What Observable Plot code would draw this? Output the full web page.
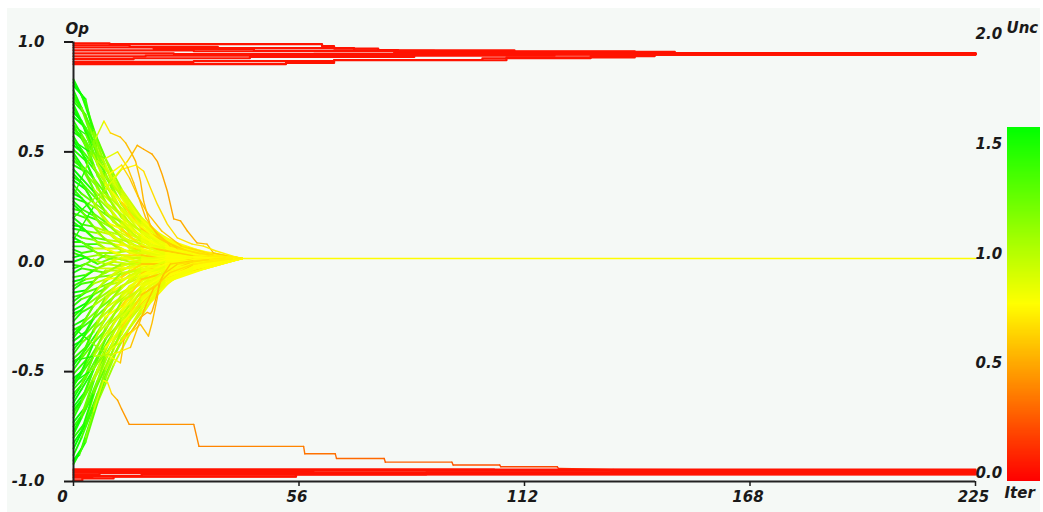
<!DOCTYPE html>
<html><head><meta charset="utf-8">
<script src="https://cdn.jsdelivr.net/npm/d3@7"></script>
<script src="https://cdn.jsdelivr.net/npm/@observablehq/plot@0.6"></script>
<style>
html,body{margin:0;padding:0;background:#fff;}
#chart{position:absolute;left:7px;top:8px;}
#chart svg{display:block;}
</style></head><body><div id="chart"></div>
<script>
// ---- axis ticks ----
const xTicks = [0, 56.25, 112.5, 168.75, 225];
const xTickLabels = ["0", "56", "112", "168", "225"];
const yTicks = [-1, -0.5, 0, 0.5, 1];
const uncTicks = [0, 0.5, 1, 1.5, 2];
const barTop = 1.61;

// ---- central cloud, set 1: opinion at shared iterations ----
const bulkX = [0, 3, 6, 10, 14, 19, 25, 33, 42];
const bulkY = [
  [0.83, 0.72, 0.55, 0.38, 0.26, 0.15, 0.08, 0.045, 0.015],
  [0.80, 0.74, 0.50, 0.36, 0.24, 0.14, 0.09, 0.04, 0.015],
  [0.76, 0.66, 0.53, 0.34, 0.27, 0.13, 0.07, 0.035, 0.015],
  [0.73, 0.67, 0.47, 0.37, 0.22, 0.15, 0.08, 0.04, 0.015],
  [0.70, 0.60, 0.49, 0.31, 0.23, 0.12, 0.06, 0.03, 0.015],
  [0.66, 0.61, 0.44, 0.33, 0.20, 0.13, 0.07, 0.035, 0.015],
  [0.62, 0.53, 0.45, 0.28, 0.21, 0.11, 0.05, 0.03, 0.015],
  [0.59, 0.55, 0.39, 0.30, 0.17, 0.12, 0.06, 0.025, 0.015],
  [0.55, 0.47, 0.40, 0.25, 0.18, 0.10, 0.05, 0.03, 0.015],
  [0.51, 0.46, 0.33, 0.26, 0.15, 0.09, 0.06, 0.02, 0.015],
  [0.48, 0.40, 0.34, 0.21, 0.16, 0.08, 0.04, 0.025, 0.015],
  [0.44, 0.41, 0.29, 0.22, 0.13, 0.09, 0.05, 0.02, 0.015],
  [0.40, 0.34, 0.28, 0.18, 0.14, 0.07, 0.04, 0.02, 0.015],
  [0.37, 0.33, 0.24, 0.19, 0.11, 0.08, 0.03, 0.025, 0.015],
  [0.33, 0.27, 0.24, 0.15, 0.11, 0.06, 0.04, 0.02, 0.015],
  [0.29, 0.27, 0.19, 0.15, 0.08, 0.06, 0.03, 0.02, 0.015],
  [0.26, 0.21, 0.19, 0.11, 0.09, 0.04, 0.03, 0.015, 0.015],
  [0.22, 0.20, 0.14, 0.12, 0.06, 0.05, 0.02, 0.02, 0.015],
  [0.18, 0.14, 0.13, 0.08, 0.07, 0.03, 0.025, 0.015, 0.015],
  [0.15, 0.14, 0.09, 0.08, 0.04, 0.04, 0.02, 0.015, 0.015],
  [0.11, 0.08, 0.08, 0.04, 0.05, 0.02, 0.02, 0.015, 0.015],
  [0.07, 0.07, 0.04, 0.04, 0.02, 0.025, 0.015, 0.015, 0.015],
  [0.04, 0.02, 0.03, 0.01, 0.02, 0.01, 0.015, 0.015, 0.015],
  [0.00, 0.02, -0.01, 0.02, 0.00, 0.01, 0.01, 0.015, 0.015],
  [-0.03, -0.01, -0.03, 0.00, -0.01, 0.01, 0.005, 0.015, 0.015],
  [-0.07, -0.06, -0.03, -0.03, -0.01, 0.00, 0.01, 0.01, 0.015],
  [-0.11, -0.08, -0.07, -0.03, -0.03, -0.01, 0.00, 0.01, 0.015],
  [-0.14, -0.13, -0.07, -0.06, -0.02, -0.02, 0.00, 0.01, 0.015],
  [-0.18, -0.14, -0.12, -0.06, -0.05, -0.01, -0.01, 0.005, 0.015],
  [-0.22, -0.19, -0.12, -0.09, -0.04, -0.03, 0.00, 0.01, 0.015],
  [-0.25, -0.20, -0.16, -0.09, -0.07, -0.02, -0.01, 0.005, 0.015],
  [-0.29, -0.26, -0.17, -0.12, -0.06, -0.04, 0.00, 0.01, 0.015],
  [-0.33, -0.27, -0.22, -0.13, -0.09, -0.03, -0.02, 0.00, 0.015],
  [-0.36, -0.32, -0.22, -0.16, -0.08, -0.05, -0.01, 0.005, 0.015],
  [-0.40, -0.33, -0.27, -0.16, -0.12, -0.04, -0.02, 0.00, 0.015],
  [-0.44, -0.39, -0.27, -0.20, -0.11, -0.06, -0.02, 0.005, 0.015],
  [-0.47, -0.40, -0.32, -0.20, -0.14, -0.05, -0.03, -0.005, 0.015],
  [-0.51, -0.45, -0.33, -0.24, -0.13, -0.08, -0.02, 0.00, 0.015],
  [-0.55, -0.47, -0.38, -0.24, -0.17, -0.07, -0.04, -0.01, 0.015],
  [-0.58, -0.52, -0.38, -0.28, -0.16, -0.09, -0.03, 0.00, 0.015],
  [-0.62, -0.53, -0.43, -0.28, -0.20, -0.08, -0.05, -0.01, 0.015],
  [-0.66, -0.59, -0.44, -0.32, -0.19, -0.11, -0.04, -0.02, 0.015],
  [-0.69, -0.60, -0.49, -0.32, -0.23, -0.10, -0.06, -0.015, 0.015],
  [-0.73, -0.66, -0.49, -0.36, -0.22, -0.13, -0.05, -0.02, 0.015],
  [-0.77, -0.67, -0.54, -0.36, -0.26, -0.12, -0.07, -0.025, 0.015],
  [-0.80, -0.73, -0.55, -0.40, -0.25, -0.15, -0.06, -0.03, 0.015],
  [-0.85, -0.74, -0.60, -0.43, -0.30, -0.16, -0.08, -0.03, 0.015],
  [-0.92, -0.82, -0.64, -0.47, -0.33, -0.19, -0.07, -0.03, 0.015]
];
const uncA = [1.55, 1.32, 1.12, 0.97, 0.89, 0.84, 0.81, 0.80, 0.80];
const uncB = [1.45, 1.18, 1.00, 0.90, 0.84, 0.81, 0.80, 0.80, 0.80];
const uncC = [1.60, 1.45, 1.25, 1.04, 0.93, 0.86, 0.82, 0.80, 0.80];
const uncD = [1.50, 1.20, 0.95, 0.78, 0.68, 0.64, 0.66, 0.72, 0.80];
const bulkProfile = "ACBDACBACDBAACBACBDACABCADBCACBADCABCBADACBCADCA";

// ---- central cloud, set 2 ----
const bulkX2 = [0, 2, 5, 8, 12, 17, 23, 30, 38];
const bulkY2 = [
  [0.815, 0.76, 0.60, 0.47, 0.33, 0.20, 0.10, 0.05, 0.015],
  [0.78, 0.70, 0.59, 0.43, 0.31, 0.18, 0.11, 0.045, 0.015],
  [0.745, 0.70, 0.54, 0.44, 0.29, 0.19, 0.09, 0.05, 0.015],
  [0.715, 0.64, 0.55, 0.39, 0.30, 0.17, 0.10, 0.04, 0.015],
  [0.68, 0.64, 0.49, 0.40, 0.26, 0.18, 0.08, 0.045, 0.015],
  [0.64, 0.58, 0.49, 0.35, 0.27, 0.15, 0.09, 0.035, 0.015],
  [0.605, 0.57, 0.43, 0.36, 0.23, 0.16, 0.07, 0.04, 0.015],
  [0.57, 0.51, 0.44, 0.31, 0.24, 0.13, 0.08, 0.03, 0.015],
  [0.53, 0.50, 0.38, 0.31, 0.20, 0.14, 0.06, 0.035, 0.015],
  [0.495, 0.44, 0.38, 0.27, 0.21, 0.11, 0.07, 0.03, 0.015],
  [0.46, 0.43, 0.33, 0.27, 0.17, 0.12, 0.05, 0.025, 0.015],
  [0.42, 0.38, 0.32, 0.22, 0.18, 0.09, 0.06, 0.03, 0.015],
  [0.385, 0.36, 0.27, 0.23, 0.14, 0.10, 0.04, 0.02, 0.015],
  [0.35, 0.31, 0.27, 0.18, 0.15, 0.07, 0.05, 0.025, 0.015],
  [0.31, 0.29, 0.22, 0.18, 0.11, 0.08, 0.03, 0.02, 0.015],
  [0.275, 0.24, 0.21, 0.14, 0.12, 0.05, 0.04, 0.02, 0.015],
  [0.24, 0.23, 0.16, 0.14, 0.08, 0.06, 0.02, 0.02, 0.015],
  [0.20, 0.17, 0.16, 0.10, 0.09, 0.03, 0.03, 0.015, 0.015],
  [0.165, 0.16, 0.11, 0.10, 0.05, 0.05, 0.02, 0.02, 0.015],
  [0.13, 0.11, 0.10, 0.06, 0.06, 0.02, 0.025, 0.015, 0.015],
  [0.09, 0.09, 0.06, 0.06, 0.03, 0.03, 0.01, 0.015, 0.015],
  [0.055, 0.04, 0.05, 0.02, 0.03, 0.01, 0.02, 0.015, 0.015],
  [0.02, 0.03, 0.00, 0.03, 0.01, 0.02, 0.01, 0.015, 0.015],
  [-0.015, -0.02, 0.01, -0.01, 0.02, 0.00, 0.015, 0.01, 0.015],
  [-0.05, -0.03, -0.04, -0.01, -0.02, 0.01, 0.00, 0.015, 0.015],
  [-0.09, -0.08, -0.04, -0.05, -0.01, -0.01, 0.01, 0.01, 0.015],
  [-0.125, -0.10, -0.09, -0.04, -0.04, 0.00, 0.00, 0.01, 0.015],
  [-0.16, -0.15, -0.10, -0.08, -0.03, -0.02, 0.01, 0.005, 0.015],
  [-0.20, -0.17, -0.15, -0.08, -0.07, -0.01, -0.01, 0.01, 0.015],
  [-0.235, -0.22, -0.15, -0.12, -0.05, -0.04, 0.00, 0.005, 0.015],
  [-0.27, -0.23, -0.20, -0.11, -0.09, -0.03, -0.02, 0.01, 0.015],
  [-0.31, -0.29, -0.20, -0.16, -0.08, -0.06, -0.01, 0.005, 0.015],
  [-0.345, -0.30, -0.26, -0.16, -0.12, -0.04, -0.03, 0.00, 0.015],
  [-0.38, -0.36, -0.26, -0.21, -0.11, -0.07, -0.02, 0.005, 0.015],
  [-0.42, -0.37, -0.32, -0.21, -0.16, -0.06, -0.04, 0.00, 0.015],
  [-0.455, -0.43, -0.31, -0.26, -0.15, -0.09, -0.03, -0.005, 0.015],
  [-0.49, -0.44, -0.37, -0.25, -0.20, -0.08, -0.05, 0.00, 0.015],
  [-0.53, -0.50, -0.37, -0.31, -0.18, -0.12, -0.04, -0.01, 0.015],
  [-0.565, -0.51, -0.43, -0.30, -0.23, -0.11, -0.06, -0.005, 0.015],
  [-0.60, -0.56, -0.43, -0.35, -0.22, -0.14, -0.05, -0.015, 0.015],
  [-0.64, -0.58, -0.49, -0.35, -0.27, -0.13, -0.07, -0.01, 0.015],
  [-0.675, -0.63, -0.49, -0.40, -0.25, -0.16, -0.06, -0.02, 0.015],
  [-0.71, -0.64, -0.54, -0.39, -0.30, -0.15, -0.08, -0.015, 0.015],
  [-0.75, -0.70, -0.54, -0.44, -0.28, -0.18, -0.07, -0.025, 0.015],
  [-0.785, -0.71, -0.60, -0.43, -0.33, -0.17, -0.09, -0.02, 0.015],
  [-0.825, -0.77, -0.60, -0.48, -0.31, -0.20, -0.08, -0.03, 0.015],
  [-0.88, -0.80, -0.66, -0.49, -0.36, -0.21, -0.10, -0.03, 0.015],
  [-0.905, -0.85, -0.68, -0.53, -0.35, -0.23, -0.09, -0.035, 0.015]
];
const uncA2 = [1.55, 1.40, 1.18, 1.02, 0.92, 0.86, 0.82, 0.80, 0.80];
const uncB2 = [1.48, 1.28, 1.05, 0.93, 0.86, 0.82, 0.80, 0.80, 0.80];
const uncC2 = [1.60, 1.50, 1.30, 1.12, 0.97, 0.88, 0.83, 0.81, 0.80];
const uncD2 = [1.50, 1.30, 1.00, 0.82, 0.70, 0.65, 0.66, 0.72, 0.80];
const bulkProfile2 = "CABACDBACABCADCABACBDACBACABDCABACBADCABCADBACAC";

// ---- stragglers: [iteration, opinion, uncertainty] ----
const stragglers = [
  [[0,0.30,1.5],[3,0.42,1.2],[5.5,0.56,0.95],[7.6,0.64,0.75],[9.2,0.586,0.66],[11.7,0.567,0.62],[13,0.541,0.6],[14.6,0.49,0.58],[15.5,0.457,0.58],[16.7,0.367,0.58],[17.5,0.276,0.6],[19.2,0.162,0.64],[24.2,0.071,0.7],[31.7,0.035,0.75],[39,0.017,0.78],[42,0.015,0.8]],
  [[0,0.10,1.5],[5,0.25,1.1],[10,0.38,0.82],[13.4,0.456,0.66],[14.6,0.49,0.6],[15.9,0.53,0.56],[17.5,0.512,0.54],[19.6,0.49,0.53],[20.9,0.457,0.53],[22.1,0.398,0.53],[23.4,0.322,0.53],[25,0.195,0.54],[26.7,0.186,0.55],[28.4,0.14,0.56],[30.8,0.086,0.58],[33.3,0.08,0.6],[34.9,0.04,0.64],[38.3,0.026,0.7],[42,0.015,0.8]],
  [[0,0.2,1.5],[4,0.27,1.15],[8,0.33,0.92],[12,0.42,0.78],[15.5,0.44,0.72],[17.5,0.412,0.7],[19.2,0.336,0.7],[20.9,0.262,0.7],[23.4,0.171,0.7],[25.9,0.109,0.72],[29.6,0.08,0.74],[32.4,0.071,0.75],[35.4,0.05,0.77],[41.6,0.015,0.8]],
  [[0,0.55,1.55],[4,0.5,1.2],[8,0.47,0.9],[11,0.5,0.7],[13.5,0.43,0.62],[15,0.36,0.6],[16.7,0.27,0.6],[18,0.2,0.62],[21,0.12,0.65],[26,0.06,0.7],[34,0.03,0.75],[42,0.015,0.8]],
  [[0,0.62,1.5],[3,0.58,1.25],[6,0.46,1.0],[9,0.4,0.8],[12,0.44,0.68],[14,0.38,0.63],[16,0.3,0.6],[18.5,0.22,0.62],[22,0.14,0.65],[27,0.07,0.7],[35,0.03,0.76],[42,0.015,0.8]],
  [[0,-0.3,1.5],[4,-0.36,1.15],[8,-0.42,0.85],[11.7,-0.46,0.62],[12.2,-0.406,0.6],[12.5,-0.36,0.58],[13.4,-0.33,0.57],[14.6,-0.315,0.56],[16.7,-0.254,0.56],[18.4,-0.23,0.56],[19.2,-0.237,0.56],[19.6,-0.225,0.56],[20.9,-0.147,0.58],[21.7,-0.088,0.6],[22.5,-0.056,0.62],[24.2,-0.01,0.66],[30,0.005,0.72],[38,0.015,0.78],[42,0.015,0.8]],
  [[0,-0.55,1.55],[4,-0.5,1.2],[8,-0.42,0.9],[12,-0.36,0.72],[16.7,-0.285,0.62],[18.7,-0.338,0.6],[19.6,-0.278,0.6],[20.9,-0.164,0.6],[21.3,-0.1,0.62],[22.5,-0.056,0.64],[26,-0.01,0.7],[34,0.01,0.76],[42,0.015,0.8]],
  [[0,-0.45,1.5],[5,-0.43,1.05],[10,-0.42,0.75],[14.2,-0.39,0.62],[16,-0.3,0.6],[18,-0.2,0.62],[20,-0.12,0.65],[24,-0.05,0.7],[30,-0.01,0.75],[40,0.015,0.8]],
  [[0,-0.9,1.6],[1.5,-0.88,1.4],[3,-0.8,1.15],[5,-0.68,0.95],[7.5,-0.54,0.8],[8.5,-0.55,0.72],[9.5,-0.6,0.6],[11,-0.63,0.52],[12,-0.67,0.48],[13.9,-0.74,0.46],[30,-0.74,0.44],[31.3,-0.84,0.42],[57.4,-0.84,0.38],[57.7,-0.874,0.36],[65.3,-0.874,0.34],[65.6,-0.895,0.33],[77.5,-0.895,0.31],[77.8,-0.912,0.3],[94.4,-0.912,0.28],[94.7,-0.925,0.26],[106.3,-0.925,0.24],[106.6,-0.933,0.22],[120.7,-0.933,0.2],[121,-0.941,0.17],[134.6,-0.945,0.1],[225,-0.952,0.06]]
];
const centerTail = [[38,0.015,0.8],[225,0.015,0.8]];

// ---- extreme (red) agents: [iteration, opinion] ----
const redUnc = 0.06;
const upperLines = [
  [[0,0.994],[9,0.99],[62,0.981],[65,0.970],[76,0.963],[81,0.958],[140,0.949],[225,0.949]],
  [[0,0.985],[14,0.978],[36,0.972],[70,0.962],[110,0.955],[150,0.948],[225,0.948]],
  [[0,0.975],[20,0.968],[45,0.96],[90,0.953],[140,0.947],[225,0.947]],
  [[0,0.962],[30,0.958],[80,0.951],[130,0.946],[225,0.946]],
  [[0,0.948],[25,0.945],[60,0.946],[100,0.946],[225,0.946]],
  [[0,0.935],[18,0.938],[50,0.941],[100,0.944],[225,0.945]],
  [[0,0.922],[15,0.926],[44,0.932],[85,0.938],[120,0.943],[225,0.945]],
  [[0,0.91],[30,0.913],[65,0.918],[102,0.926],[129,0.936],[145,0.944],[225,0.944]],
  [[0,0.899],[53,0.905],[65,0.917],[108,0.93],[140,0.942],[225,0.944]]
];
const lowerLines = [
  [[0,-0.945],[105,-0.946],[225,-0.948]],
  [[0,-0.952],[60,-0.951],[134,-0.952],[225,-0.952]],
  [[0,-0.96],[88,-0.958],[225,-0.955]],
  [[0,-0.968],[6.5,-0.962],[88,-0.96],[225,-0.957]],
  [[0,-0.975],[17,-0.968],[88,-0.963],[225,-0.958]],
  [[0,-0.983],[4.7,-0.977],[55.5,-0.966],[225,-0.96]],
  [[0,-0.995],[2.2,-0.986],[10,-0.978],[55.5,-0.968],[225,-0.962]]
];

// ---- build tables ----
const profiles = {A: uncA, B: uncB, C: uncC, D: uncD};
const profiles2 = {A: uncA2, B: uncB2, C: uncC2, D: uncD2};
const bulkRows = [];
bulkY.forEach((ys, i) => ys.forEach((y, j) => bulkRows.push({id: "b" + i, x: bulkX[j], y, u: profiles[bulkProfile[i]][j]})));
bulkY2.forEach((ys, i) => ys.forEach((y, j) => bulkRows.push({id: "c" + i, x: bulkX2[j], y, u: profiles2[bulkProfile2[i]][j]})));
const stragRows = [];
stragglers.forEach((line, i) => line.forEach(([x, y, u]) => stragRows.push({id: "s" + i, x, y, u})));
const tailRows = centerTail.map(([x, y, u]) => ({id: "t", x, y, u}));
const redRows = [];
upperLines.forEach((line, i) => line.forEach(([x, y]) => redRows.push({id: "u" + i, x, y, u: redUnc})));
lowerLines.forEach((line, i) => line.forEach(([x, y]) => redRows.push({id: "l" + i, x, y, u: redUnc})));
const barStep = 0.005;
const barStops = d3.range(0, barTop, barStep);

const labelFont = {fontSize: 15, fontWeight: "bold", fontStyle: "italic"};

const chart = Plot.plot({
  width: 1033, height: 504,
  marginLeft: 66, marginRight: 65, marginTop: 33.5, marginBottom: 31,
  x: {domain: [0, 225], axis: null},
  y: {domain: [-1, 1], axis: null},
  color: {type: "linear", domain: [0, barTop / 2, barTop], range: ["#ff0000", "#ffff00", "#00ff00"], interpolate: "rgb"},
  style: {fontFamily: "'DejaVu Sans', sans-serif", fontSize: "15px", fontWeight: "bold", fontStyle: "italic", color: "#1a1a1a", background: "#f5f9f6"},
  marks: [
    Plot.rect(barStops, {x1: 233, x2: 245, y1: d => d - 1, y2: d => Math.min(barTop, d + barStep * 2.5) - 1, fill: d => d, shapeRendering: "crispEdges"}),
    Plot.line(bulkRows, {x: "x", y: "y", z: "id", stroke: "u", strokeWidth: 1.9}),
    Plot.line(tailRows, {x: "x", y: "y", z: "id", stroke: "u", strokeWidth: 1.4}),
    Plot.line(stragRows, {x: "x", y: "y", z: "id", stroke: "u", strokeWidth: 1.4}),
    Plot.line(redRows, {x: "x", y: "y", z: "id", stroke: "u", strokeWidth: 2.2, curve: "step-after"}),
    Plot.ruleX([0], {y1: -1, y2: 1, stroke: "#222", strokeWidth: 2}),
    Plot.ruleY([-1], {x1: 0, x2: 225, stroke: "#222", strokeWidth: 2}),
    Plot.axisY(yTicks, {anchor: "left", label: null, tickSize: 9, tickPadding: 20, tickFormat: d => d.toFixed(1), strokeWidth: 2, ...labelFont}),
    Plot.axisX(xTicks, {anchor: "bottom", label: null, tickSize: 5, tickFormat: () => "", strokeWidth: 1.5}),
    Plot.text(xTicks.slice(0, 1), {x: d => d, y: -1, text: (d, i) => xTickLabels[i], dy: 16, dx: -11, ...labelFont}),
    Plot.text(xTicks.slice(1), {x: d => d, y: -1, text: (d, i) => xTickLabels[i + 1], dy: 16, dx: -2, ...labelFont}),
    Plot.text(uncTicks, {x: 225, y: d => d - 1, text: d => d.toFixed(1), textAnchor: "start", dy: -8, ...labelFont}),
    Plot.text(["Op"], {frameAnchor: "top-left", text: d => d, dx: -8, dy: -19, textAnchor: "start", ...labelFont}),
    Plot.text(["Unc"], {frameAnchor: "top-right", text: d => d, dx: 31, dy: -20, textAnchor: "start", ...labelFont}),
    Plot.text(["Iter"], {frameAnchor: "bottom-right", text: d => d, dx: 29, dy: 16, textAnchor: "start", ...labelFont})
  ]
});
document.getElementById("chart").append(chart);
</script>
</body></html>
